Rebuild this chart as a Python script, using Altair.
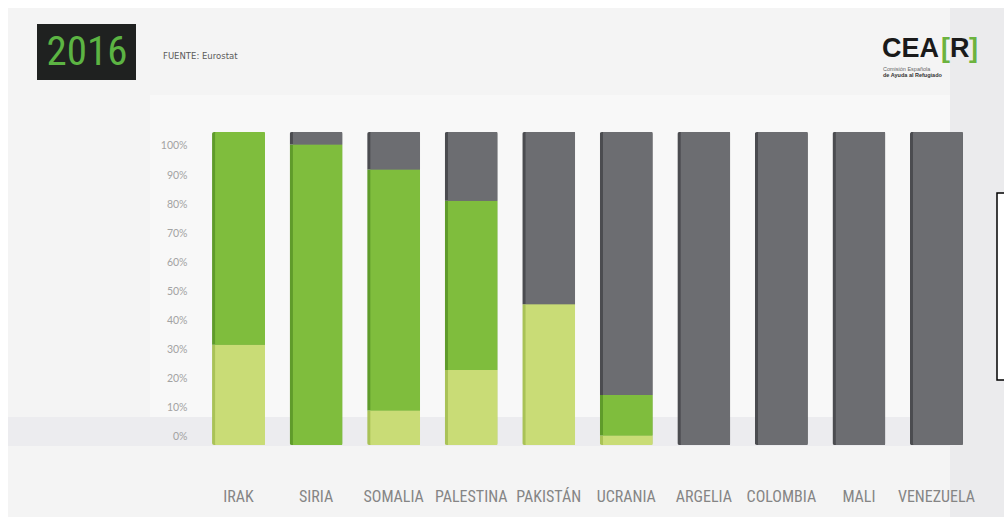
import altair as alt
import pandas as pd

# ---- data ----
countries = ["IRAK", "SIRIA", "SOMALIA", "PALESTINA", "PAKISTÁN",
             "UCRANIA", "ARGELIA", "COLOMBIA", "MALI", "VENEZUELA"]
series = ["Estatuto de refugiado", "Protección subsidiaria", "Denegada"]
refugiado = [32, 0, 11, 24, 45, 3, 0, 0, 0, 0]
subsidiaria = [68, 96, 77, 54, 0, 13, 0, 0, 0, 0]
denegada = [0, 4, 12, 22, 55, 84, 100, 100, 100, 100]
y_ticks = [0, 10, 20, 30, 40, 50, 60, 70, 80, 90, 100]

colors_main = ["#c9dc76", "#7fbd3d", "#6c6d71"]
colors_edge = ["#a9c257", "#5f9b2b", "#4b4c50"]

rows = []
for i, c in enumerate(countries):
    for k, (s, vals) in enumerate(zip(series, [refugiado, subsidiaria, denegada])):
        rows.append({"pais": c, "serie": s, "orden": k, "valor": vals[i]})
df = pd.DataFrame(rows)
ticks_df = pd.DataFrame({"v": y_ticks})

# plot origin in the page: (200, 132)
OX, OY = 200, 132

def px(x):
    return x - OX

def py(y):
    return y - OY

one = alt.Data(values=[{"a": 1}])
COND = ("Roboto Condensed, Noto Sans Condensed, DejaVu Sans Condensed, "
        "Liberation Sans Narrow, Open Sans Condensed, sans-serif")

x_enc = alt.X("pais:N", sort=countries, title=None,
              scale=alt.Scale(paddingInner=0.316, paddingOuter=0.155),
              axis=alt.Axis(labelAngle=0, ticks=False, domain=False, grid=False,
                            labelPadding=43, zindex=1,
                            labelFont=COND,
                            labelFontSize=16, labelColor="#858585"))

y_bar = alt.Y("valor:Q", stack="zero", scale=alt.Scale(domain=[0, 100]), axis=None)

bars_edge = alt.Chart(df).mark_bar(size=53, cornerRadius=2).encode(
    x=x_enc,
    y=y_bar,
    color=alt.Color("serie:N", sort=series,
                    scale=alt.Scale(domain=series, range=colors_edge), legend=None),
    order=alt.Order("orden:Q"),
)

bars_main = alt.Chart(df).mark_bar(size=50, xOffset=1.5, cornerRadius=1).encode(
    x=x_enc,
    y=y_bar,
    color=alt.Color("serie:N", sort=series,
                    scale=alt.Scale(domain=series, range=colors_main), legend=None),
    order=alt.Order("orden:Q"),
)

bars = alt.layer(bars_edge, bars_main).resolve_scale(color="independent")

axis_layer = alt.Chart(ticks_df).mark_point(opacity=0).encode(
    y=alt.Y("v:Q", scale=alt.Scale(domain=[-2.75, 104.8], nice=False, zero=False),
            axis=alt.Axis(orient="left", values=y_ticks, labelExpr="datum.value + '%'",
                          ticks=False, domain=False, grid=False, labelPadding=13, zindex=1,
                          labelFont="Lato, DejaVu Sans, sans-serif", labelFontSize=10.5,
                          labelColor="#a3a3a3", title=None))
)

# ---- decoration ----
panel = alt.Chart(one).mark_rect(color="#f4f4f4").encode(
    x=alt.value(px(8)), x2=alt.value(px(1004)), y=alt.value(py(8)), y2=alt.value(py(517)))
plotbg = alt.Chart(one).mark_rect(color="#f8f8f8").encode(
    x=alt.value(px(150)), x2=alt.value(px(950)), y=alt.value(py(95)), y2=alt.value(py(417)))
wall = alt.Chart(one).mark_rect(color="#ebebed").encode(
    x=alt.value(px(950)), x2=alt.value(px(1004)), y=alt.value(py(8)), y2=alt.value(py(517)))
floor = alt.Chart(one).mark_rect(color="#ececef").encode(
    x=alt.value(px(8)), x2=alt.value(px(955)), y=alt.value(py(417)), y2=alt.value(py(446)))
note_box = alt.Chart(one).mark_rect(color="white", stroke="black", strokeWidth=1.5).encode(
    x=alt.value(px(997)), x2=alt.value(px(1012)), y=alt.value(py(193)), y2=alt.value(py(380)))

year_box = alt.Chart(one).mark_rect(color="#1f2120").encode(
    x=alt.value(px(37)), x2=alt.value(px(136)), y=alt.value(py(24)), y2=alt.value(py(80)))
year_txt = alt.Chart(one).mark_text(
    font=COND, fontSize=41,
    color="#5cb443", align="center", baseline="middle").encode(
    x=alt.value(px(87)), y=alt.value(py(53)), text=alt.value("2016"))
fuente = alt.Chart(one).mark_text(
    font="DejaVu Sans, sans-serif", fontSize=8.5, color="#5a5a5a",
    align="left", baseline="middle").encode(
    x=alt.value(px(163)), y=alt.value(py(56)), text=alt.value("FUENTE: Eurostat"))

logo_font = "Liberation Sans, Arial, sans-serif"
LS = 27
logo_cea = alt.Chart(one).mark_text(font=logo_font, fontSize=LS, fontWeight="bold",
                                    color="#1a1a1a", align="left", baseline="alphabetic").encode(
    x=alt.value(px(882)), y=alt.value(py(57)), text=alt.value("CEA"))
logo_b1 = alt.Chart(one).mark_text(font=logo_font, fontSize=LS, fontWeight="bold",
                                   color="#6cb33f", align="left", baseline="alphabetic").encode(
    x=alt.value(px(941)), y=alt.value(py(57)), text=alt.value("["))
logo_r = alt.Chart(one).mark_text(font=logo_font, fontSize=LS, fontWeight="bold",
                                  color="#1a1a1a", align="left", baseline="alphabetic").encode(
    x=alt.value(px(950)), y=alt.value(py(57)), text=alt.value("R"))
logo_b2 = alt.Chart(one).mark_text(font=logo_font, fontSize=LS, fontWeight="bold",
                                   color="#6cb33f", align="left", baseline="alphabetic").encode(
    x=alt.value(px(969)), y=alt.value(py(57)), text=alt.value("]"))
logo_l1 = alt.Chart(one).mark_text(font=logo_font, fontSize=5.5, color="#666666",
                                   align="left", baseline="middle").encode(
    x=alt.value(px(883)), y=alt.value(py(69)), text=alt.value("Comisión Española"))
logo_l2 = alt.Chart(one).mark_text(font=logo_font, fontSize=5.5, fontWeight="bold",
                                   color="#333333", align="left", baseline="middle").encode(
    x=alt.value(px(883)), y=alt.value(py(75)), text=alt.value("de Ayuda al Refugiado"))

deco = alt.layer(panel, plotbg, wall, floor, note_box, year_box, year_txt, fuente,
                 logo_cea, logo_b1, logo_r, logo_b2, logo_l1, logo_l2)

chart = alt.layer(deco, bars, axis_layer).resolve_scale(y="independent").properties(
    width=775, height=313,
    padding={"left": OX, "top": OY, "right": 1004 - OX - 775, "bottom": 522 - OY - 313},
    autosize=alt.AutoSizeParams(type="none"),
    background="white",
).configure_view(stroke=None)

chart.save("out.html", embed_options={"renderer": "svg", "actions": False})
